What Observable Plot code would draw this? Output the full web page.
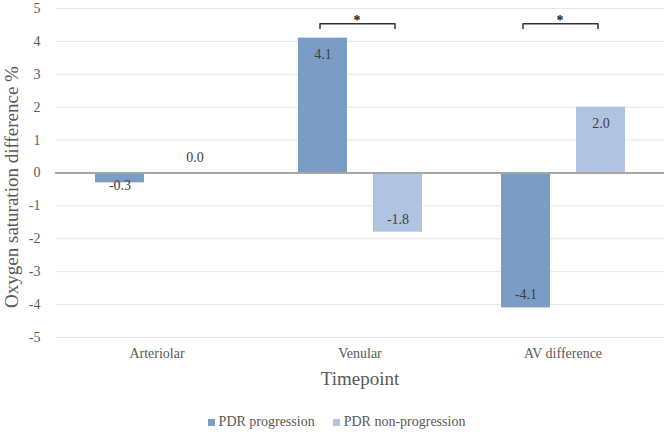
<!DOCTYPE html>
<html>
<head>
<meta charset="utf-8">
<script src="https://cdn.jsdelivr.net/npm/d3@7"></script>
<script src="https://cdn.jsdelivr.net/npm/@observablehq/plot@0.6"></script>
<style>
  html, body { margin: 0; padding: 0; background: #fff; }
  #wrap { position: relative; width: 669px; height: 436px; font-family: "Liberation Serif", "DejaVu Serif", serif; color: #595959; }
  #ylabel { position: absolute; left: 12px; top: 187px; transform: translate(-50%, -50%) rotate(-90deg); font-size: 19px; white-space: nowrap; }
  #xlabel { position: absolute; left: 360px; top: 379px; transform: translate(-50%, -50%); font-size: 19px; white-space: nowrap; }
  #legend { position: absolute; left: 0; width: 669px; top: 414px; display: flex; justify-content: center; font-size: 14px; gap: 18px; padding-left: 4px; box-sizing: border-box; }
  #legend span.item { display: inline-flex; align-items: center; }
  #legend span.sw { display: inline-block; width: 7px; height: 7px; margin-right: 4px; }
  svg { position: absolute; left: 0; top: 0; }
  svg text { font-family: "Liberation Serif", "DejaVu Serif", serif; }
</style>
</head>
<body>
<div id="wrap">
  <div id="chart"></div>
  <div id="ylabel">Oxygen saturation difference %</div>
  <div id="xlabel">Timepoint</div>
  <div id="legend"></div>
</div>
<script>
const categories = ["Arteriolar", "Venular", "AV difference"];
const series = ["PDR progression", "PDR non-progression"];
const progression = [-0.3, 4.1, -4.1];
const nonProgression = [0.0, -1.8, 2.0];
const colors = ["#7b9cc4", "#b0c3e0"];
const yTicks = [-5, -4, -3, -2, -1, 0, 1, 2, 3, 4, 5];
const significant = ["Venular", "AV difference"];

const data = [];
categories.forEach((c, i) => {
  data.push({category: c, series: series[0], value: progression[i]});
  data.push({category: c, series: series[1], value: nonProgression[i]});
});

const bracketPts = [];
significant.forEach(c => {
  bracketPts.push({category: c, series: series[0], y: 4.39});
  bracketPts.push({category: c, series: series[0], y: 4.54});
  bracketPts.push({category: c, series: series[1], y: 4.54});
  bracketPts.push({category: c, series: series[1], y: 4.39});
});
const stars = significant.map(c => ({category: c, y: 4.73}));

const fmt = v => v.toFixed(1);
const serif = "'Liberation Serif', 'DejaVu Serif', serif";

const chart = Plot.plot({
  width: 669,
  height: 400,
  marginLeft: 55,
  marginRight: 5,
  marginTop: 8,
  marginBottom: 63,
  style: {fontFamily: serif, fontSize: "14px", color: "#595959", background: "#fff"},
  fx: {domain: categories, padding: 0, label: null, tickSize: 0, tickPadding: 11},
  x: {domain: series, paddingInner: 0.347, paddingOuter: 0.525, axis: null},
  y: {domain: [-5, 5], ticks: yTicks, tickSize: 0, tickPadding: 15, tickFormat: d => String(d), label: null},
  color: {domain: series, range: colors},
  marks: [
    Plot.ruleY(yTicks.filter(d => d !== 0), {stroke: "#e6e6e6", strokeWidth: 1}),
    Plot.barY(data, {fx: "category", x: "series", y: "value", fill: "series"}),
    Plot.ruleY([0], {stroke: "#a6a6a6", strokeWidth: 2}),
    Plot.text(data.filter(d => d.value > 0.5), {fx: "category", x: "series", y: "value", text: d => fmt(d.value), dy: 16, fill: "#404040", fontSize: 14}),
    Plot.text(data.filter(d => d.value < -0.5), {fx: "category", x: "series", y: "value", text: d => fmt(d.value), dy: -13, fill: "#404040", fontSize: 14}),
    Plot.text(data.filter(d => d.value < 0 && d.value >= -0.5), {fx: "category", x: "series", y: "value", text: d => fmt(d.value), dy: 3, fill: "#404040", fontSize: 14}),
    Plot.text(data.filter(d => d.value === 0), {fx: "category", x: "series", y: "value", text: d => fmt(d.value), dy: -15, fill: "#404040", fontSize: 14}),
    Plot.line(bracketPts, {fx: "category", x: "series", y: "y", z: "category", stroke: "#333", strokeWidth: 1.5, dx: -3}),
    Plot.text(stars, {fx: "category", y: "y", text: () => "*", frameAnchor: "middle", fill: "#222", fontSize: 14, fontWeight: "bold", dx: -3, dy: 3})
  ]
});
document.getElementById("chart").appendChild(chart);

const legend = document.getElementById("legend");
series.forEach((s, i) => {
  const item = document.createElement("span");
  item.className = "item";
  const sw = document.createElement("span");
  sw.className = "sw";
  sw.style.background = colors[i];
  item.appendChild(sw);
  item.appendChild(document.createTextNode(s));
  legend.appendChild(item);
});
</script>
</body>
</html>
